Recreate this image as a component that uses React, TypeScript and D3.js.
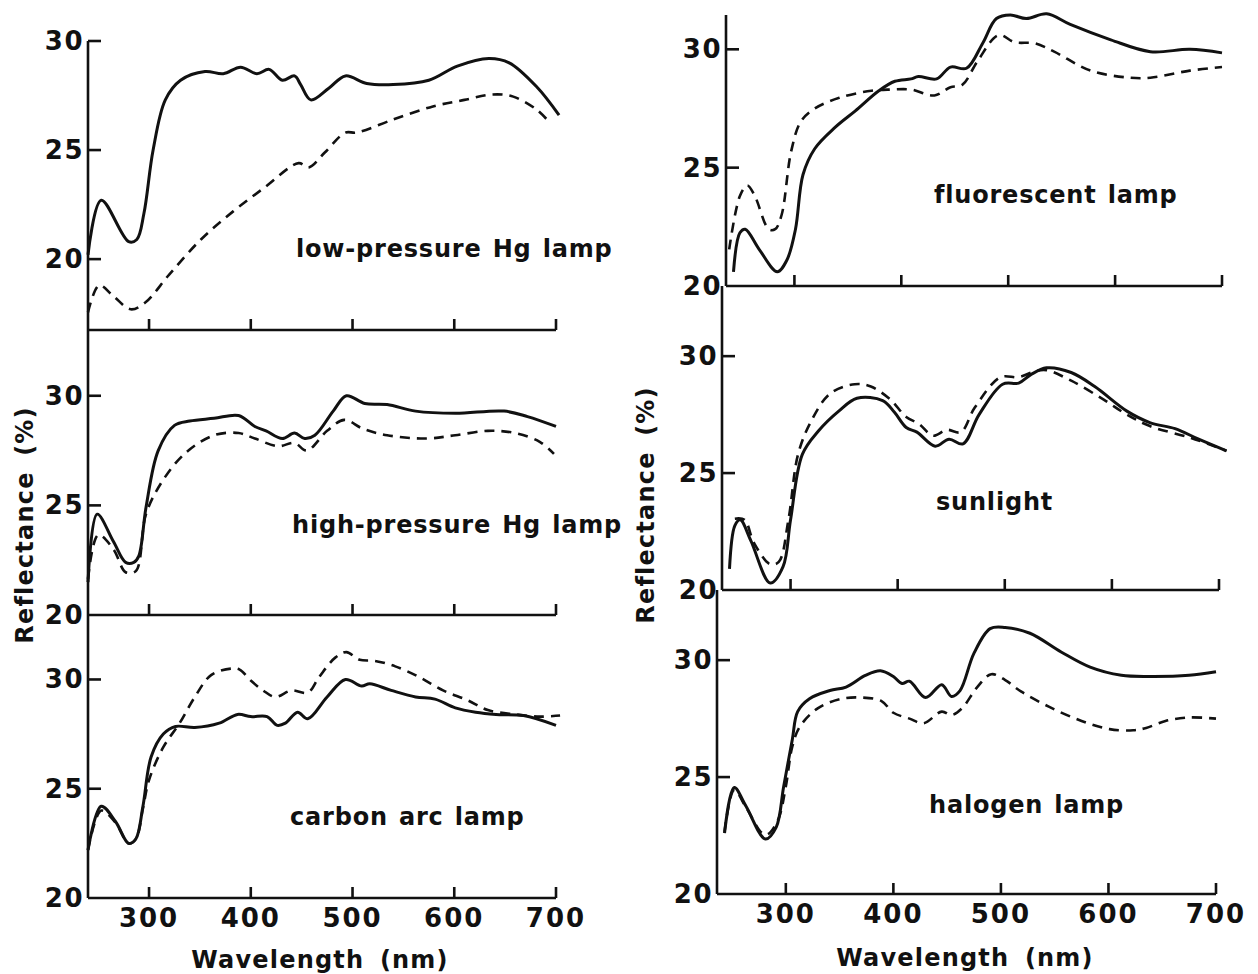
import React from "react";
import * as d3 from "d3";

// ---------- data ----------
const wavelengthTicks = [300, 400, 500, 600, 700];
const reflectanceTicks = [20, 25, 30];
const panelLabels = [
  "low-pressure Hg lamp",
  "high-pressure Hg lamp",
  "carbon arc lamp",
  "fluorescent lamp",
  "sunlight",
  "halogen lamp",
];
const xAxisTitle = "Wavelength (nm)";
const yAxisTitle = "Reflectance (%)";

type Pt = [number, number];

const lowPressureSolid: Pt[] = [[240,20.2],[253,22.7],[280,20.8],[288,20.9],[295,22.1],[304,25.0],[316,27.3],[331,28.2],[355,28.6],[373,28.5],[390,28.8],[406,28.5],[418,28.7],[431,28.2],[443,28.4],[449,28.0],[459,27.3],[477,27.85],[493,28.4],[514,28.05],[540,28.0],[575,28.2],[603,28.85],[634,29.2],[654,29.0],[681,27.9],[703,26.6]];
const lowPressureDashed: Pt[] = [[240,17.56],[251,18.8],[265,18.3],[282,17.7],[296,18.0],[320,19.3],[351,20.9],[383,22.2],[414,23.3],[447,24.4],[457,24.2],[473,24.9],[493,25.8],[504,25.8],[540,26.4],[579,27.0],[610,27.3],[638,27.55],[658,27.45],[681,26.85],[695,26.2]];

const highPressureSolid: Pt[] = [[240,21.5],[249,24.6],[265,23.35],[277,22.4],[285,22.4],[290,22.7],[297,24.9],[309,27.5],[325,28.65],[340,28.85],[364,28.97],[388,29.1],[404,28.6],[415,28.4],[431,28.05],[443,28.3],[453,28.05],[463,28.2],[481,29.3],[494,30.0],[512,29.65],[534,29.6],[562,29.3],[601,29.2],[649,29.3],[672,29.05],[700,28.6]];
const highPressureDashed: Pt[] = [[240,21.65],[250,23.65],[265,23.0],[277,21.95],[287,22.0],[297,24.6],[313,26.1],[336,27.4],[364,28.2],[388,28.3],[404,28.05],[427,27.7],[443,27.85],[455,27.5],[475,28.4],[492,28.9],[510,28.5],[534,28.2],[573,28.05],[601,28.2],[633,28.4],[660,28.3],[684,27.9],[698,27.35]];

const carbonArcSolid: Pt[] = [[240,22.2],[253,24.2],[267,23.5],[280,22.5],[287,22.7],[294,24.2],[302,26.45],[314,27.5],[326,27.85],[345,27.8],[369,28.0],[387,28.4],[400,28.3],[416,28.3],[426,27.9],[434,28.0],[446,28.5],[456,28.2],[475,29.2],[493,30.0],[509,29.7],[517,29.8],[538,29.5],[562,29.2],[581,29.1],[601,28.7],[621,28.5],[641,28.4],[668,28.35],[700,27.9]];
const carbonArcDashed: Pt[] = [[240,22.2],[253,24.0],[267,23.45],[280,22.5],[287,22.7],[294,24.1],[300,25.4],[314,26.9],[330,28.0],[345,29.2],[361,30.2],[381,30.5],[389,30.45],[400,29.95],[412,29.5],[424,29.2],[440,29.5],[456,29.4],[467,30.1],[483,31.0],[494,31.25],[507,30.9],[522,30.85],[542,30.6],[566,30.1],[589,29.5],[613,29.05],[633,28.6],[660,28.4],[684,28.3],[704,28.35]];

const fluorescentSolid: Pt[] = [[243,20.6],[249,22.25],[254,22.4],[267,21.55],[284,20.6],[293,21.1],[301,22.4],[308,24.7],[319,25.8],[338,26.7],[357,27.4],[379,28.25],[394,28.65],[409,28.75],[416,28.85],[433,28.75],[446,29.25],[461,29.2],[476,30.25],[489,31.3],[502,31.45],[517,31.3],[536,31.5],[558,31.05],[596,30.4],[633,29.9],[670,30.0],[700,29.85]];
const fluorescentDashed: Pt[] = [[239,21.55],[249,23.8],[256,24.25],[263,23.8],[276,22.4],[282,22.4],[288,23.0],[297,25.7],[306,26.95],[319,27.5],[342,27.95],[372,28.25],[390,28.3],[409,28.3],[431,28.05],[446,28.4],[457,28.5],[472,29.55],[491,30.6],[506,30.3],[525,30.25],[543,29.9],[577,29.1],[614,28.8],[633,28.8],[670,29.1],[700,29.25]];

const sunlightSolid: Pt[] = [[243,20.9],[248,22.75],[253,23.0],[263,22.1],[281,20.3],[293,21.0],[300,23.0],[311,25.8],[326,26.8],[345,27.65],[362,28.2],[386,28.1],[397,27.6],[408,26.95],[418,26.75],[435,26.15],[448,26.45],[461,26.25],[476,27.5],[498,28.8],[513,28.85],[524,29.2],[539,29.5],[562,29.3],[584,28.7],[614,27.65],[636,27.15],[659,26.9],[681,26.45],[707,25.95]];
const sunlightDashed: Pt[] = [[248,23.05],[257,23.0],[266,22.0],[281,21.1],[289,21.2],[298,23.0],[307,25.8],[319,27.2],[337,28.4],[360,28.8],[375,28.7],[393,28.15],[408,27.4],[420,27.1],[433,26.6],[446,26.85],[459,26.75],[472,27.8],[496,29.1],[513,29.1],[528,29.35],[539,29.4],[562,28.95],[592,28.15],[614,27.5],[636,27.0],[674,26.5],[707,25.95]];

const halogenSolid: Pt[] = [[243,22.6],[252,24.55],[263,23.75],[281,22.35],[291,22.85],[298,24.6],[306,26.6],[311,27.8],[322,28.35],[341,28.7],[356,28.85],[374,29.35],[388,29.55],[400,29.3],[408,29.0],[415,29.1],[430,28.4],[445,28.95],[454,28.45],[462,28.7],[475,30.3],[490,31.35],[504,31.4],[527,31.15],[556,30.35],[583,29.7],[612,29.35],[638,29.3],[675,29.35],[700,29.5]];
const halogenDashed: Pt[] = [[243,22.65],[252,24.45],[263,23.7],[278,22.6],[283,22.55],[293,23.2],[300,24.6],[306,26.3],[313,27.15],[330,27.95],[352,28.35],[371,28.4],[389,28.25],[400,27.75],[415,27.5],[428,27.3],[445,27.8],[454,27.65],[464,27.95],[478,28.85],[491,29.4],[504,29.15],[519,28.65],[545,28.0],[575,27.4],[601,27.05],[623,27.0],[635,27.1],[653,27.4],[675,27.55],[700,27.5]];

// ---------- layout ----------
const FONT = "'DejaVu Sans', 'Liberation Sans', Arial, sans-serif";
const INK = "#111";

type Panel = {
  label: string;
  solid: Pt[];
  dashed: Pt[];
  xDomain: [number, number];
  yDomain: [number, number];
  left: number;
  right: number;
  top: number;
  bottom: number;
  labelX: number;
  labelY: number;
  showXLabels: boolean;
};

const panels: Panel[] = [
  { label: panelLabels[0], solid: lowPressureSolid, dashed: lowPressureDashed, xDomain: [240, 700], yDomain: [16.75, 30], left: 88, right: 556, top: 41, bottom: 330, labelX: 296, labelY: 257, showXLabels: false },
  { label: panelLabels[1], solid: highPressureSolid, dashed: highPressureDashed, xDomain: [240, 700], yDomain: [20, 33], left: 88, right: 556, top: 330, bottom: 615, labelX: 292, labelY: 533, showXLabels: false },
  { label: panelLabels[2], solid: carbonArcSolid, dashed: carbonArcDashed, xDomain: [240, 700], yDomain: [20, 32.95], left: 88, right: 556, top: 615, bottom: 898, labelX: 290, labelY: 825, showXLabels: true },
  { label: panelLabels[3], solid: fluorescentSolid, dashed: fluorescentDashed, xDomain: [236, 700], yDomain: [20, 31.45], left: 726, right: 1222, top: 15, bottom: 286, labelX: 934, labelY: 203, showXLabels: false },
  { label: panelLabels[4], solid: sunlightSolid, dashed: sunlightDashed, xDomain: [236, 700], yDomain: [20, 33], left: 722, right: 1219, top: 286, bottom: 590, labelX: 936, labelY: 510, showXLabels: false },
  { label: panelLabels[5], solid: halogenSolid, dashed: halogenDashed, xDomain: [236, 700], yDomain: [20, 33], left: 717, right: 1216, top: 590, bottom: 894, labelX: 929, labelY: 813, showXLabels: true },
];

function PanelView({ p }: { p: Panel }) {
  const x = d3.scaleLinear().domain(p.xDomain).range([p.left, p.right]);
  const y = d3.scaleLinear().domain(p.yDomain).range([p.bottom, p.top]);
  const line = d3
    .line<Pt>()
    .x((d) => x(d[0]))
    .y((d) => y(d[1]))
    .curve(d3.curveCatmullRom.alpha(0.5));
  const x0 = x(p.xDomain[0]);
  const yBottom = y(p.yDomain[0]);
  return (
    <g>
      {/* curves */}
      <path d={line(p.dashed) || ""} fill="none" stroke={INK} strokeWidth={2.6} strokeDasharray="10 7" />
      <path d={line(p.solid) || ""} fill="none" stroke={INK} strokeWidth={3} strokeLinejoin="round" />
      {/* y axis */}
      <line x1={x0} x2={x0} y1={y(p.yDomain[1])} y2={yBottom} stroke={INK} strokeWidth={2.6} />
      {reflectanceTicks.map((t) => (
        <g key={t}>
          {t > p.yDomain[0] && (
            <line x1={x0} x2={x0 + 13} y1={y(t)} y2={y(t)} stroke={INK} strokeWidth={2.6} />
          )}
          <text
            x={x0 - 4}
            y={y(t)}
            textAnchor="end"
            dominantBaseline="central"
            fontFamily={FONT}
            fontWeight="bold"
            fontSize={26}
            letterSpacing={1.5}
            fill={INK}
          >
            {t}
          </text>
        </g>
      ))}
      {/* x axis */}
      <line x1={x0} x2={x(700)} y1={yBottom} y2={yBottom} stroke={INK} strokeWidth={2.6} />
      {wavelengthTicks.map((t) => (
        <g key={t}>
          <line x1={x(t)} x2={x(t)} y1={yBottom} y2={yBottom - 11} stroke={INK} strokeWidth={2.6} />
          {p.showXLabels && (
            <text
              x={x(t)}
              y={yBottom + 29}
              textAnchor="middle"
              fontFamily={FONT}
              fontWeight="bold"
              fontSize={26}
              letterSpacing={2}
              fill={INK}
            >
              {t}
            </text>
          )}
        </g>
      ))}
      {/* panel label */}
      <text
        x={p.labelX}
        y={p.labelY}
        fontFamily={FONT}
        fontWeight="bold"
        fontSize={24}
        letterSpacing={0.8}
        wordSpacing={2}
        fill={INK}
      >
        {p.label}
      </text>
    </g>
  );
}

export default function App() {
  const titleStyle = {
    fontFamily: FONT,
    fontWeight: "bold" as const,
    fontSize: 24,
    letterSpacing: 1.2,
    wordSpacing: 6,
    fill: INK,
  };
  return (
    <svg
      width={1258}
      height={974}
      viewBox="0 0 1258 974"
      style={{ position: "absolute", left: 0, top: 0, background: "#fff" }}
    >
      <rect width={1258} height={974} fill="#fff" />
      {panels.map((p, i) => (
        <PanelView key={i} p={p} />
      ))}
      <text x={320} y={968} textAnchor="middle" {...titleStyle}>
        {xAxisTitle}
      </text>
      <text x={965} y={966} textAnchor="middle" {...titleStyle}>
        {xAxisTitle}
      </text>
      <text transform="translate(33,525) rotate(-90)" textAnchor="middle" {...titleStyle}>
        {yAxisTitle}
      </text>
      <text transform="translate(654,505) rotate(-90)" textAnchor="middle" {...titleStyle}>
        {yAxisTitle}
      </text>
    </svg>
  );
}
